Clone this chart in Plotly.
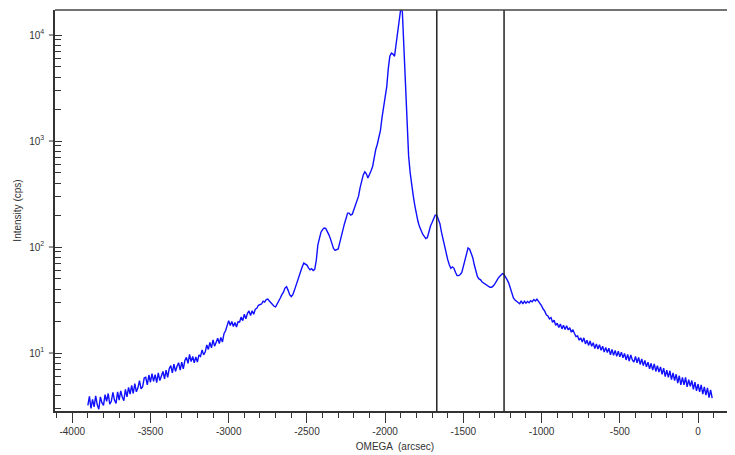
import plotly.graph_objects as go

# ---------------- data ----------------
# rocking curve, omega in arcsec, intensity in counts per second
omega_left = list(range(-3900, -2299, 10))
intensity_left = [
    3.2, 3.9, 3.0, 3.65, 3.1,
    3.95, 3.25, 2.95, 3.85, 3.4,
    3.2, 4.05, 3.5, 4.15, 3.3,
    3.5, 4.25, 3.6, 3.35, 4.3,
    3.6, 4.4, 3.85, 3.55, 4.55,
    3.85, 4.75, 4.1, 4.95, 4.15,
    5.15, 4.3, 4.7, 5.5, 4.6,
    4.8, 5.8, 5.9, 5.0, 6.2,
    5.3, 6.4, 5.4, 6.25, 5.25,
    6.5, 5.5, 6.2, 6.7, 5.7,
    6.9, 5.9, 7.1, 7.6, 6.5,
    7.85, 6.7, 7.5, 8.1, 6.9,
    8.2, 7.1, 8.5, 9.1, 8.0,
    9.7, 8.3, 9.3, 8.1, 9.2,
    8.2, 9.6, 9.3, 10.7, 9.6,
    10.2, 11.9, 10.8, 12.6, 11.2,
    13.3, 11.6, 12.9, 13.8, 12.3,
    14.0, 12.7, 15.2, 16.2, 18.5,
    20.2, 18.2, 19.8, 17.8, 19.4,
    17.6, 19.7, 19.6, 21.9, 20.2,
    23.2, 21.0, 23.7, 24.9, 22.6,
    25.0, 23.2, 25.9, 26.4, 28.2,
    28.8,
    29.0, 30.8, 30.2, 31.9, 32.3,
    31.0, 29.6, 28.7, 27.6, 27.2,
    28.8, 30.5, 33.0, 35.5, 37.5,
    41.0, 42.2, 39.0, 35.5, 34.0,
    35.5, 39.0, 43.5, 48.0, 53.5,
    59.0, 65.0, 70.5, 69.5, 67.5,
    63.5, 61.0, 62.5, 60.0, 61.5,
    75.0, 105, 125, 138, 146,
    151, 150, 142, 131, 120,
    108, 97, 93, 94, 96,
]

omega_mid = list(range(-2290, -1099, 10))
intensity_mid = [
    110, 129, 148, 166, 186, 209, 209, 200, 204, 224,
    240, 263, 302, 363, 427, 479, 513, 490, 447, 479,
    525, 575, 708, 832, 933, 1072, 1259, 1660, 2089, 2630,
    3236, 4786, 6310, 6761, 6607, 6310, 8318, 10965, 14454, 17800,
    16600, 7080, 2818, 1259, 724, 501, 372, 302, 245, 200,
    174, 155, 141, 132, 126, 120, 123, 141, 158, 170,
    182, 200, 200, 182, 166, 138, 117, 100, 87, 76,
    68, 63, 65, 63, 57.5, 53.7, 53.7, 55, 57.5, 66,
    77.6, 89, 98, 95.5, 87, 79.4, 67.6, 57.5, 52.5, 50,
    49, 46.8, 45.7, 44.7, 43.7, 42.7, 41.7, 41.7, 42.7, 44.7,
    47.9, 50, 52.5, 55, 56.2, 55, 52.5, 49, 45.7, 40.7,
    36.3, 33.1, 31.6, 30.9, 30.2, 29.2, 31.0, 29.0, 30.8, 29.5,
]

omega_right = list(range(-1090, 91, 10))
intensity_right = [
    30.6, 29.8, 31.2, 30.4, 32.0,
    31.0, 32.2, 30.8, 29.4, 27.8,
    26.0, 24.8, 22.9, 22.4, 21.0,
    21.6, 19.5, 20.4, 18.3, 19.1,
    17.4, 18.8, 16.9, 18.3, 16.7,
    18.1, 16.5, 17.3, 15.7, 16.6,
    15.3, 14.3, 14.5, 13.2, 13.9,
    12.7, 13.9, 12.2, 13.2, 11.8,
    13.0, 11.6, 12.5, 11.0, 12.2,
    10.9, 12.0, 10.6, 11.6, 10.2,
    11.3, 10.1, 11.1, 9.6, 10.8,
    9.5, 10.6, 9.3, 10.4, 9.2,
    10.2, 9.0, 9.9, 8.6, 9.7,
    8.4, 9.6, 8.6, 8.2, 9.3,
    8.1, 9.1, 7.8, 8.8, 7.6,
    8.5, 7.4, 8.2, 7.1, 8.0,
    6.9, 7.9, 6.7, 7.6, 6.6,
    7.4, 6.3, 7.2, 6.0, 6.9,
    5.9, 6.8, 5.6, 6.5, 5.5,
    6.3, 5.2, 6.1, 5.0, 5.9,
    5.0, 5.9, 4.8, 5.6, 4.85,
    5.5, 4.55, 5.3, 4.4, 5.1,
    4.3, 5.0, 4.1, 4.8, 4.0,
    4.7, 3.8, 4.5, 3.75,
]

marker_omegas = [-1670, -1240]

omega_ticks = [-4000, -3500, -3000, -2500, -2000, -1500, -1000, -500, 0]
intensity_ticks = [10, 100, 1000, 10000]
intensity_tick_text = ["10<sup>1</sup>", "10<sup>2</sup>", "10<sup>3</sup>", "10<sup>4</sup>"]

omega = omega_left + omega_mid + omega_right
intensity = intensity_left + intensity_mid + intensity_right

# ---------------- figure ----------------
# The page body keeps its default 8px margin, so the figure is sized and
# padded to put the plot frame where the reference has it inside the window.
FONT = "Liberation Sans, Arial, sans-serif"
AX = "#333333"
minor_y = [m * 10 ** k for k in range(0, 5) for m in range(2, 10)]

fig = go.Figure()
fig.add_trace(go.Scatter(
    x=omega, y=intensity, mode="lines",
    line=dict(color="#1010ff", width=1.4),
    showlegend=False, hoverinfo="skip",
))

for xv in marker_omegas:
    fig.add_vline(x=xv, line=dict(color="#222222", width=1.5))

# top frame line
fig.add_shape(type="line", xref="paper", yref="paper", x0=0, x1=1, y0=1, y1=1,
              line=dict(color="#444444", width=1.5))
# outer half of the decade ticks (they cross the y axis line in the reference)
for tv in intensity_ticks:
    fig.add_shape(type="line", xref="paper", yref="y", x0=-0.009, x1=0, y0=tv, y1=tv,
                  line=dict(color=AX, width=1))

fig.update_layout(
    width=727, height=447,
    margin=dict(l=47, r=0, t=2, b=44, autoexpand=False),
    paper_bgcolor="white", plot_bgcolor="white",
    font=dict(family=FONT, size=10, color=AX),
    xaxis=dict(
        range=[-4110, 236], automargin=False,
        tickmode="array", tickvals=omega_ticks,
        ticktext=[str(v) for v in omega_ticks],
        ticks="outside", ticklen=10, tickwidth=1, tickcolor=AX,
        minor=dict(dtick=100, ticks="outside", ticklen=5, tickwidth=1, tickcolor=AX),
        showline=True, linecolor=AX, linewidth=1.5,
        showgrid=False, zeroline=False,
        tickfont=dict(size=10, color=AX),
        title=dict(text="OMEGA  (arcsec)", font=dict(size=10, color=AX), standoff=7),
    ),
    yaxis=dict(
        type="log", range=[0.453, 4.236], automargin=False,
        tickmode="array", tickvals=intensity_ticks, ticktext=intensity_tick_text,
        ticks="inside", ticklen=7, tickwidth=1, tickcolor=AX,
        ticklabelstandoff=7,
        minor=dict(tickmode="array", tickvals=minor_y, ticks="inside", ticklen=6,
                   tickwidth=1, tickcolor=AX),
        showline=True, linecolor=AX, linewidth=1.5,
        showgrid=False, zeroline=False,
        tickfont=dict(size=10, color=AX),
        title=dict(text="Intensity (cps)", font=dict(size=10, color=AX), standoff=6),
    ),
)

fig.write_html("out.html")
